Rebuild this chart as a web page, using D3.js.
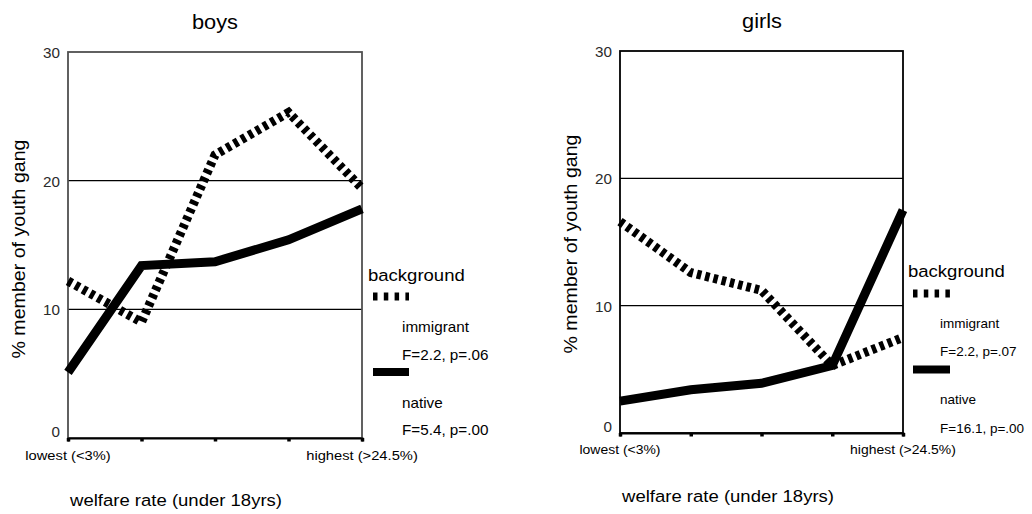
<!DOCTYPE html>
<html>
<head>
<meta charset="utf-8">
<script src="https://cdn.jsdelivr.net/npm/d3@7"></script>
<style>
  html, body { margin: 0; padding: 0; background: #fff; }
  svg { display: block; }
  text { font-family: "Liberation Sans", Arial, sans-serif; fill: #000; }
</style>
</head>
<body>
<svg id="chart" width="1032" height="514"></svg>
<script>
// ---- data ----
const categories = ["lowest (<3%)", "2", "3", "4", "highest (>24.5%)"];
const tickLabels = ["lowest (<3%)", "", "", "", "highest (>24.5%)"];
const yTicks = [0, 10, 20, 30];
const panelTitles = ["boys", "girls"];
const seriesNames = ["immigrant", "native"];
const boysImmigrant = [12.2, 9.0, 22.0, 25.3, 19.4];
const boysNative = [5.1, 13.4, 13.7, 15.4, 17.8];
const girlsImmigrant = [16.6, 12.6, 11.2, 5.3, 7.5];
const girlsNative = [2.5, 3.4, 3.9, 5.3, 17.5];
const boysStats = ["F=2.2, p=.06", "F=5.4, p=.00"];
const girlsStats = ["F=2.2, p=.07", "F=16.1, p=.00"];
const legendTitle = "background";
const yAxisTitle = "% member of youth gang";
const xAxisTitle = "welfare rate (under 18yrs)";

// ---- layout ----
const svg = d3.select("#chart");
const SX = 1.09; // horizontal glyph stretch

function txt(g, x, y, s, size, anchor, opts = {}) {
  const sx = opts.sx || SX;
  const t = g.append("text")
    .attr("transform", `translate(${x},${y})${opts.rotate ? " rotate(" + opts.rotate + ")" : ""} scale(${sx},1)`)
    .attr("text-anchor", anchor || "start")
    .style("font-size", size + "px")
    .text(s);
  if (opts.fill) t.style("fill", opts.fill);
  return t;
}

const panels = [
  { title: panelTitles[0], imm: boysImmigrant, nat: boysNative, stats: boysStats,
    left: 68, right: 362, top: 52, bottom: 438, frame: "#505050",
    titleX: 215, titleY: 29, xTitleX: 176, xTitleY: 506, tickLabY: 460, tickFs: 13.5,
    yLabX: 25, yLabY: 249,
    leg: { x: 368, titleY: 281, swX: 373, swW: 36, sw1Y: 296.5, sw2Y: 372, tx: 402,
           ys: [332, 360, 408, 435], fs: 14, sx: 1.09 } },
  { title: panelTitles[1], imm: girlsImmigrant, nat: girlsNative, stats: girlsStats,
    left: 620, right: 903, top: 51, bottom: 433, frame: "#000",
    titleX: 762, titleY: 28, xTitleX: 728, xTitleY: 502, tickLabY: 454, tickFs: 12.8,
    yLabX: 577, yLabY: 244,
    leg: { x: 908, titleY: 277, swX: 913, swW: 37, sw1Y: 293.5, sw2Y: 369.5, tx: 940,
           ys: [328, 356, 404, 433], fs: 13.5, sx: 1.0 } }
];

panels.forEach(p => {
  const g = svg.append("g");
  const x = d3.scalePoint().domain(categories).range([p.left, p.right]);
  const y = d3.scaleLinear().domain([0, 30]).range([p.bottom, p.top]);

  // gridlines
  g.append("g").selectAll("line").data(yTicks.filter(v => v > 0 && v < 30)).join("line")
    .attr("x1", p.left).attr("x2", p.right)
    .attr("y1", d => y(d)).attr("y2", d => y(d))
    .attr("stroke", "#000").attr("stroke-width", 1.2);

  // frame
  g.append("rect")
    .attr("x", p.left).attr("y", p.top)
    .attr("width", p.right - p.left).attr("height", p.bottom - p.top)
    .attr("fill", "none").attr("stroke", p.frame).attr("stroke-width", 1.8);

  // bottom axis with square ticks
  const xAxis = d3.axisBottom(x).tickSize(3.5).tickFormat("");
  const ax = g.append("g").attr("transform", `translate(0,${p.bottom})`).call(xAxis);
  ax.select(".domain").attr("stroke", "#000").attr("stroke-width", 2);
  ax.selectAll(".tick line").attr("stroke", "#000").attr("stroke-width", 3.5);

  // x tick labels
  categories.forEach((c, i) => {
    const lab = tickLabels[i];
    if (lab) txt(g, x(c), p.tickLabY, lab, p.tickFs, "middle");
  });

  // y tick labels
  yTicks.forEach(v => {
    txt(g, p.left - 8, y(v) + (v === 0 ? -1 : 6), String(v), 14, "end", { fill: "#2a2a2a" });
  });

  // titles
  txt(g, p.titleX, p.titleY, p.title, 20, "middle");
  txt(g, p.xTitleX, p.xTitleY, xAxisTitle, 17, "middle");
  txt(g, p.yLabX, p.yLabY, yAxisTitle, 18, "middle", { rotate: -90 });

  // lines
  const line = d3.line().x((d, i) => x(categories[i])).y(d => y(d));
  g.append("path").datum(p.nat).attr("d", line)
    .attr("fill", "none").attr("stroke", "#000").attr("stroke-width", 9)
    .attr("stroke-linejoin", "miter").attr("stroke-linecap", "butt");
  g.append("path").datum(p.imm).attr("d", line)
    .attr("fill", "none").attr("stroke", "#000").attr("stroke-width", 9)
    .attr("stroke-dasharray", "4.5,4")
    .attr("stroke-linejoin", "miter").attr("stroke-linecap", "butt");

  // legend
  const L = p.leg;
  txt(g, L.x, L.titleY, legendTitle, 17, "start");
  g.append("line").attr("x1", L.swX).attr("x2", L.swX + L.swW)
    .attr("y1", L.sw1Y).attr("y2", L.sw1Y)
    .attr("stroke", "#000").attr("stroke-width", 8).attr("stroke-dasharray", "4.5,6.3");
  g.append("line").attr("x1", L.swX).attr("x2", L.swX + L.swW)
    .attr("y1", L.sw2Y).attr("y2", L.sw2Y)
    .attr("stroke", "#000").attr("stroke-width", 8);
  txt(g, L.tx, L.ys[0], seriesNames[0], L.fs, "start", { sx: L.sx });
  txt(g, L.tx, L.ys[1], p.stats[0], L.fs, "start", { sx: L.sx });
  txt(g, L.tx, L.ys[2], seriesNames[1], L.fs, "start", { sx: L.sx });
  txt(g, L.tx, L.ys[3], p.stats[1], L.fs, "start", { sx: L.sx });
});
</script>
</body>
</html>
